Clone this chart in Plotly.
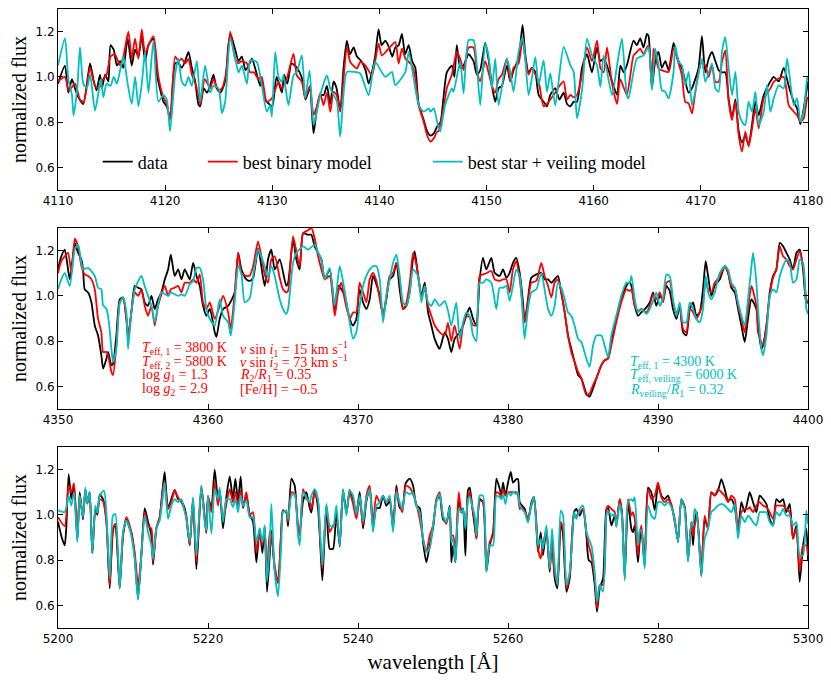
import plotly.graph_objects as go
from plotly.subplots import make_subplots

# (wavelength [A], normalized flux) pairs

# ---- panel 1: 4110-4180 A
p1_data = [
    (4110.0, 0.97), (4110.65, 1.05), (4110.96, 0.93), (4111.3, 0.99), (4111.58, 0.95), (4111.9, 0.91),
    (4112.36, 0.88), (4112.99, 1.06), (4113.3, 0.99), (4113.6, 0.94), (4113.92, 1.01), (4114.1, 0.95),
    (4114.4, 1.01), (4114.7, 0.98), (4114.9, 1.14), (4115.2, 1.12), (4115.5, 1.05), (4115.79, 1.07),
    (4116.1, 1.04), (4116.5, 1.17), (4116.88, 1.05), (4117.19, 1.12), (4117.5, 1.09), (4117.82, 1.18),
    (4118.13, 1.07), (4118.44, 1.14), (4118.91, 1.17), (4119.2, 1.02), (4119.5, 0.95), (4119.84, 0.89),
    (4120.15, 0.87), (4120.46, 0.82), (4120.6, 0.87), (4120.93, 1.06), (4121.24, 1.06), (4121.55, 1.04),
    (4121.87, 1.07), (4122.18, 1.11), (4122.49, 1.04), (4122.8, 0.98), (4123.1, 0.88), (4123.27, 0.87),
    (4123.6, 0.95), (4123.9, 0.93), (4124.2, 0.96), (4124.51, 1.01), (4124.8, 0.95), (4125.15, 0.93),
    (4125.6, 0.98), (4125.9, 1.14), (4126.1, 1.19), (4126.54, 1.12), (4126.85, 1.07), (4127.16, 1.09),
    (4127.5, 1.03), (4127.8, 1.05), (4128.1, 1.08), (4128.56, 1.01), (4128.87, 0.96),
    (4129.0, 1.00), (4129.33, 0.90), (4129.7, 0.88), (4130.0, 0.87), (4130.4, 1.00), (4130.9, 0.93),
    (4131.1, 1.01), (4131.4, 0.97), (4131.8, 1.06), (4132.3, 1.04), (4132.8, 0.99), (4133.1, 0.90),
    (4133.5, 0.95), (4133.85, 0.75), (4134.16, 0.86), (4134.47, 0.92), (4134.8, 0.92), (4135.1, 0.96),
    (4135.41, 0.88), (4135.72, 0.98), (4136.0, 0.95), (4136.34, 0.85), (4136.65, 1.04), (4136.96, 1.16),
    (4137.25, 1.10), (4137.59, 1.13), (4137.9, 1.09), (4138.3, 1.07), (4138.7, 1.03), (4138.99, 0.97),
    (4139.3, 1.02), (4139.6, 1.09), (4139.92, 1.21), (4140.2, 1.14), (4140.55, 1.16), (4140.9, 1.13),
    (4141.2, 1.09), (4141.48, 1.13), (4141.8, 1.14), (4142.1, 1.19), (4142.4, 1.10), (4142.73, 1.14),
    (4143.05, 1.07), (4143.35, 1.04), (4143.66, 0.88), (4144.13, 0.81), (4144.45, 0.76), (4144.75, 0.74),
    (4145.07, 0.75), (4145.38, 0.78), (4145.7, 0.80),
    (4145.98, 0.91), (4146.29, 1.02), (4146.76, 1.05), (4147.0, 1.00), (4147.22, 1.14), (4147.54, 1.04),
    (4147.85, 1.05), (4148.32, 1.10), (4148.78, 1.07), (4149.09, 1.01), (4149.41, 1.03), (4149.87, 1.15),
    (4150.18, 1.08), (4150.5, 0.96), (4150.81, 0.89), (4151.12, 0.95), (4151.43, 0.96), (4151.9, 1.05),
    (4152.21, 0.98), (4152.52, 1.03), (4152.99, 1.08), (4153.36, 1.23), (4153.61, 1.10), (4153.92, 1.02),
    (4154.23, 1.04), (4154.55, 1.02), (4154.86, 0.92), (4155.32, 0.89), (4155.64, 0.87), (4155.95, 0.92),
    (4156.41, 0.95), (4156.8, 0.90), (4157.19, 0.93), (4157.51, 0.88), (4157.82, 0.87), (4158.13, 0.89),
    (4158.44, 0.89), (4158.91, 1.04), (4159.37, 1.10), (4159.84, 1.02), (4160.31, 1.13), (4160.62, 1.07),
    (4160.93, 1.08), (4161.24, 1.05), (4161.71, 0.98), (4162.18, 0.92), (4162.49, 1.05), (4162.8, 1.02),
    (4163.09, 1.05), (4163.72, 1.16), (4164.03, 1.14), (4164.34, 1.17), (4164.65, 1.13), (4164.96, 1.19),
    (4165.12, 1.18), (4165.43, 0.95), (4165.74, 1.07), (4166.05, 1.11), (4166.36, 1.04), (4166.68, 1.07),
    (4166.99, 1.03), (4167.45, 1.15), (4167.61, 1.12), (4167.92, 1.07), (4168.23, 1.04), (4168.54, 0.98),
    (4168.86, 0.93), (4169.17, 0.95), (4169.48, 0.99), (4169.79, 1.04), (4170.1, 1.18), (4170.41, 1.02),
    (4170.73, 1.08), (4171.04, 1.11), (4171.35, 1.07), (4171.66, 1.03), (4171.97, 1.02), (4172.28, 1.02),
    (4172.6, 0.90), (4172.91, 0.82), (4173.22, 0.90), (4173.53, 0.76), (4173.84, 0.71), (4174.15, 0.74),
    (4174.46, 0.70), (4174.78, 0.79), (4175.09, 0.89), (4175.4, 0.83), (4175.87, 0.92), (4176.49, 0.98),
    (4176.8, 1.00), (4177.27, 0.98), (4177.73, 1.04), (4178.2, 0.96), (4178.67, 0.89), (4178.98, 0.86),
    (4179.29, 0.79), (4179.6, 0.86), (4180.0, 0.98),
]
p1_binary = [
    (4110.0, 0.98), (4110.65, 1.00), (4111.0, 0.94), (4111.6, 0.97), (4112.05, 0.90), (4112.4, 0.89),
    (4112.99, 1.04), (4113.45, 0.96), (4113.8, 0.95), (4114.2, 0.99), (4114.54, 1.01), (4114.9, 1.09),
    (4115.3, 1.10), (4115.8, 1.05), (4116.1, 1.09), (4116.57, 1.20), (4116.88, 1.08), (4117.19, 1.17),
    (4117.5, 1.08), (4117.82, 1.21), (4118.13, 1.10), (4118.44, 1.14), (4118.91, 1.18), (4119.37, 1.00),
    (4119.84, 0.91), (4120.15, 0.88), (4120.46, 0.81), (4120.93, 1.09), (4121.24, 1.07), (4121.55, 1.08),
    (4121.87, 1.06), (4122.18, 1.08), (4122.49, 1.01), (4122.9, 0.96), (4123.27, 0.88), (4123.7, 0.99),
    (4124.2, 0.95), (4124.51, 0.99), (4124.98, 0.94), (4125.3, 0.95), (4125.7, 1.02), (4126.07, 1.20),
    (4126.54, 1.08), (4126.85, 1.06), (4127.16, 1.07), (4127.63, 1.06), (4127.93, 1.02), (4128.3, 1.02),
    (4128.7, 0.99), (4129.0, 1.00), (4129.49, 0.89), (4129.96, 0.905), (4130.58, 0.978), (4130.89, 0.949),
    (4131.36, 0.993), (4131.98, 1.103), (4132.29, 1.007), (4132.76, 0.978), (4133.07, 0.905), (4133.5, 0.96),
    (4133.85, 0.831), (4134.16, 0.87), (4134.47, 0.927), (4134.78, 0.875), (4135.1, 0.93), (4135.41, 0.846),
    (4135.72, 0.934), (4136.0, 0.92), (4136.34, 0.846), (4136.96, 1.132), (4137.28, 1.066), (4137.9, 1.037),
    (4138.21, 1.066), (4138.68, 1.051), (4139.3, 1.007), (4139.92, 1.147), (4140.23, 1.095), (4140.86, 1.125),
    (4141.48, 1.154), (4141.79, 1.059), (4142.1, 1.125), (4142.42, 1.081), (4143.04, 1.051), (4143.35, 0.993),
    (4143.66, 0.875), (4144.13, 0.802), (4144.44, 0.743), (4144.75, 0.714), (4145.07, 0.728), (4145.38, 0.758),
    (4145.51, 0.76), (4145.98, 0.86), (4146.29, 0.95), (4146.76, 1.01), (4147.22, 1.11), (4147.54, 1.08),
    (4147.85, 1.03), (4148.32, 1.13), (4148.78, 1.13), (4149.09, 1.03), (4149.41, 0.98), (4149.87, 1.07),
    (4150.18, 1.02), (4150.5, 0.96), (4150.81, 0.93), (4151.12, 0.99), (4151.43, 1.01), (4151.9, 1.08),
    (4152.21, 0.98), (4152.52, 1.04), (4152.99, 1.06), (4153.36, 1.17), (4153.61, 1.08), (4153.92, 1.01),
    (4154.23, 1.04), (4154.55, 1.01), (4154.86, 0.98), (4155.32, 0.87), (4155.64, 0.88), (4155.95, 0.90),
    (4156.41, 0.93), (4156.8, 0.96), (4157.19, 0.98), (4157.51, 0.90), (4157.82, 0.92), (4158.13, 0.91),
    (4158.44, 0.92), (4158.91, 1.01), (4159.37, 1.13), (4159.84, 1.07), (4160.31, 1.16), (4160.62, 1.04),
    (4160.93, 1.02), (4161.24, 1.13), (4161.71, 0.97), (4162.18, 0.88), (4162.47, 0.99), (4163.09, 0.92),
    (4163.4, 1.00), (4163.72, 1.095), (4164.03, 1.11), (4164.34, 1.125), (4164.65, 1.10), (4164.96, 1.13),
    (4165.12, 1.139), (4165.43, 0.963), (4165.59, 1.125), (4166.05, 1.037), (4166.36, 1.029), (4166.99, 1.022),
    (4167.45, 1.125), (4167.92, 1.059), (4168.23, 1.007), (4168.54, 0.89), (4168.86, 0.883), (4169.17, 0.838),
    (4169.48, 0.934), (4169.79, 1.022), (4170.1, 1.066), (4170.41, 1.051), (4170.73, 1.0), (4171.04, 1.051),
    (4171.35, 0.978), (4171.66, 0.978), (4171.97, 1.066), (4172.28, 1.117), (4172.6, 0.89), (4172.91, 0.809),
    (4173.22, 0.89), (4173.53, 0.743), (4173.84, 0.67), (4174.15, 0.758), (4174.46, 0.692), (4174.78, 0.772),
    (4175.09, 0.861), (4175.4, 0.772), (4175.87, 0.905), (4176.49, 0.949), (4176.8, 0.978), (4177.73, 1.0),
    (4178.2, 0.875), (4178.67, 0.846), (4178.98, 0.831), (4179.29, 0.802), (4179.6, 0.816), (4179.92, 0.905),
    (4180.0, 0.91),
]
p1_veiling = [
    (4110.0, 1.05), (4110.65, 1.17), (4110.96, 0.99), (4111.3, 0.92), (4111.45, 0.83), (4111.8, 0.95),
    (4112.05, 1.13), (4112.36, 0.97), (4112.7, 0.95), (4113.0, 1.01), (4113.45, 0.85), (4113.77, 0.93),
    (4114.0, 0.99), (4114.23, 0.91), (4114.54, 0.97), (4114.9, 0.96), (4115.2, 1.00), (4115.5, 0.97),
    (4115.8, 1.03), (4116.1, 1.09), (4116.5, 0.97), (4116.88, 0.88), (4117.2, 1.00), (4117.5, 0.87),
    (4117.82, 0.97), (4118.13, 1.11), (4118.44, 0.93), (4118.91, 1.16), (4119.37, 0.89), (4119.84, 0.92),
    (4120.15, 0.90), (4120.46, 0.76), (4120.93, 1.01), (4121.24, 1.08), (4121.55, 0.98), (4121.87, 0.96),
    (4122.18, 1.00), (4122.49, 0.96), (4122.96, 1.07), (4123.27, 0.89), (4123.73, 1.05), (4124.2, 0.93),
    (4124.51, 0.96), (4124.98, 0.95), (4125.29, 0.84), (4125.6, 0.89), (4126.07, 1.17), (4126.54, 1.08),
    (4126.85, 1.02), (4127.16, 1.05), (4127.63, 0.97), (4127.93, 1.073), (4128.55, 1.066), (4129.02, 0.963),
    (4129.49, 0.846), (4129.8, 0.875), (4129.96, 0.824), (4130.27, 1.11), (4130.58, 1.0), (4130.89, 0.978),
    (4131.05, 1.007), (4131.51, 0.875), (4131.98, 1.007), (4132.29, 1.022), (4132.76, 1.095), (4133.07, 0.905),
    (4133.48, 1.029), (4133.85, 0.787), (4134.16, 0.846), (4134.47, 0.919), (4135.1, 1.007), (4135.41, 0.949),
    (4136.03, 0.89), (4136.34, 0.736), (4136.96, 1.022), (4137.59, 1.022), (4138.21, 1.015), (4138.99, 0.919),
    (4139.6, 1.066), (4140.55, 1.0), (4141.17, 1.022), (4141.48, 0.963), (4142.42, 1.022), (4142.73, 1.11),
    (4143.35, 0.949), (4143.66, 0.875), (4144.13, 0.846), (4144.6, 0.861), (4144.75, 0.846), (4145.07, 0.861),
    (4145.38, 0.802), (4145.67, 0.758), (4146.13, 0.875), (4146.76, 0.949), (4146.91, 0.934), (4147.54, 1.066),
    (4147.85, 0.927), (4148.32, 1.162), (4148.78, 1.162), (4149.09, 1.051), (4149.41, 0.875), (4149.87, 1.147),
    (4150.18, 1.095), (4150.5, 0.949), (4150.81, 1.081), (4151.12, 0.875), (4151.9, 1.081), (4152.21, 1.022),
    (4152.52, 0.934), (4152.99, 1.11), (4153.36, 1.176), (4153.61, 1.081), (4153.92, 0.919), (4154.23, 0.993),
    (4154.55, 1.088), (4154.86, 0.963), (4155.32, 1.073), (4155.64, 0.934), (4155.95, 1.015), (4156.41, 0.875),
    (4157.19, 1.132), (4157.82, 1.051), (4158.13, 1.022), (4158.44, 0.816), (4158.91, 0.941), (4159.37, 1.169),
    (4159.84, 1.095), (4160.31, 1.051), (4160.62, 0.956), (4160.93, 1.095), (4161.71, 0.919), (4162.18, 1.051),
    (4162.63, 1.169), (4163.09, 0.919), (4163.25, 0.905), (4164.03, 1.081), (4164.65, 1.095), (4165.12, 1.132),
    (4165.43, 0.941), (4165.74, 1.125), (4166.05, 1.051), (4166.36, 0.941), (4166.68, 0.934), (4166.99, 0.905),
    (4167.45, 1.022), (4167.61, 1.139), (4167.92, 1.066), (4168.23, 1.051), (4168.54, 0.963), (4168.86, 1.022),
    (4169.17, 0.875), (4169.48, 0.934), (4170.1, 1.081), (4170.41, 0.978), (4171.04, 1.059), (4171.35, 0.949),
    (4171.66, 0.934), (4171.97, 1.11), (4172.28, 1.176), (4172.6, 1.037), (4172.91, 0.919), (4173.22, 1.022),
    (4173.53, 0.846), (4173.84, 0.802), (4174.15, 0.787), (4174.46, 0.89), (4174.78, 0.846), (4175.09, 0.934),
    (4175.4, 0.787), (4175.87, 0.846), (4176.18, 0.963), (4176.49, 0.846), (4176.8, 0.905), (4177.27, 0.963),
    (4177.73, 0.949), (4178.05, 1.081), (4178.67, 0.875), (4178.98, 0.905), (4179.29, 0.802), (4179.6, 0.846),
    (4179.92, 0.993), (4180.0, 1.0),
]

# ---- panel 2: 4350-4400 A
p2_data = [
    (4350.0, 1.12), (4350.2, 1.17), (4350.45, 1.204), (4350.6, 1.15), (4350.78, 1.073), (4350.95, 1.15),
    (4351.12, 1.234), (4351.34, 1.19), (4351.56, 1.161), (4351.67, 1.117), (4351.78, 1.029), (4352.01, 1.015),
    (4352.23, 0.971), (4352.45, 0.869), (4352.67, 0.825), (4352.89, 0.737), (4353.01, 0.679), (4353.23, 0.723),
    (4353.34, 0.752), (4353.56, 0.693), (4353.67, 0.70), (4353.89, 0.825), (4354.12, 0.985), (4354.34, 0.993),
    (4354.56, 0.898), (4354.67, 0.81), (4354.89, 0.927), (4355.12, 1.044), (4355.34, 1.036), (4355.56, 1.029),
    (4355.78, 0.971), (4356.0, 0.956), (4356.23, 1.0), (4356.45, 0.942), (4356.67, 0.985), (4356.89, 1.015),
    (4357.12, 1.073), (4357.34, 1.117), (4357.52, 1.182), (4357.78, 1.088), (4358.01, 1.117), (4358.23, 1.073),
    (4358.45, 1.117), (4358.78, 1.073), (4359.01, 1.146), (4359.23, 1.088), (4359.45, 1.044), (4359.67, 0.956),
    (4359.89, 0.912), (4360.12, 0.942), (4360.45, 0.839), (4360.56, 0.818), (4360.78, 0.898), (4361.01, 0.942),
    (4361.34, 0.956), (4361.78, 1.015), (4362.01, 1.19), (4362.23, 1.117), (4362.56, 1.073), (4362.78, 1.066),
    (4363.01, 1.08), (4363.34, 1.21), (4363.78, 1.044), (4364.0, 1.161), (4364.22, 1.204), (4364.45, 1.117),
    (4364.78, 1.161), (4365.22, 1.044), (4365.34, 1.058), (4365.67, 1.248), (4365.89, 1.161), (4366.11, 1.117),
    (4366.34, 1.277), (4366.67, 1.27), (4366.89, 1.27), (4367.11, 1.219), (4367.34, 1.19), (4367.56, 1.161),
    (4367.78, 1.073), (4368.11, 1.117), (4368.45, 0.942), (4368.67, 1.044), (4368.89, 1.029), (4369.11, 1.0),
    (4369.45, 0.898), (4369.67, 0.869), (4369.89, 0.898), (4370.11, 1.029), (4370.34, 0.971), (4370.56, 0.942),
    (4370.78, 0.985), (4371.0, 1.088), (4371.23, 1.051), (4371.45, 1.0), (4371.67, 0.912), (4371.89, 0.985),
    (4372.11, 1.073), (4372.34, 1.088), (4372.56, 1.146), (4372.78, 1.029), (4373.0, 0.942), (4373.23, 0.956),
    (4373.45, 1.022), (4373.67, 1.168), (4373.78, 1.197), (4374.0, 1.088), (4374.23, 1.0), (4374.45, 1.058),
    (4374.67, 0.927), (4374.89, 0.869), (4375.11, 0.81), (4375.44, 0.766), (4375.78, 0.839), (4376.0, 0.81),
    (4376.22, 0.752), (4376.44, 0.81), (4376.78, 0.839), (4377.0, 0.869), (4377.22, 0.912), (4377.44, 0.949),
    (4377.67, 0.898), (4377.89, 0.869), (4378.11, 1.073), (4378.33, 1.168), (4378.55, 1.117), (4378.89, 1.168),
    (4379.11, 1.102), (4379.44, 1.088), (4379.67, 1.117), (4379.89, 1.08), (4380.11, 1.102), (4380.33, 1.146),
    (4380.55, 1.168), (4380.78, 1.102), (4381.0, 0.971), (4381.11, 0.883), (4381.33, 0.985), (4381.55, 1.08),
    (4381.89, 1.095), (4382.22, 1.102), (4382.44, 1.073), (4382.67, 1.073), (4382.89, 1.058), (4383.11, 1.073),
    (4383.33, 1.088), (4383.55, 1.015), (4383.78, 0.927), (4384.0, 0.825), (4384.22, 0.766), (4384.44, 0.708),
    (4384.67, 0.65), (4384.89, 0.635), (4385.22, 0.569), (4385.44, 0.555), (4385.67, 0.591), (4385.89, 0.635),
    (4386.22, 0.693), (4386.44, 0.715), (4386.67, 0.723), (4386.89, 0.796), (4387.22, 0.898), (4387.55, 0.985),
    (4387.89, 1.044), (4388.11, 1.06), (4388.23, 1.044), (4388.45, 0.956), (4388.67, 0.912), (4388.89, 0.927),
    (4389.23, 0.949), (4389.45, 0.971), (4389.67, 1.015), (4389.89, 0.956), (4390.12, 1.0), (4390.34, 0.985),
    (4390.56, 1.044), (4390.78, 1.022), (4391.0, 0.942), (4391.23, 0.898), (4391.45, 0.956), (4391.67, 0.839),
    (4391.89, 0.825), (4392.12, 0.942), (4392.34, 0.971), (4392.56, 0.912), (4392.78, 0.927), (4393.0, 1.029),
    (4393.18, 1.153), (4393.34, 1.088), (4393.56, 1.0), (4393.78, 1.044), (4394.12, 1.073), (4394.45, 1.131),
    (4394.67, 1.102), (4394.89, 1.036), (4395.12, 1.015), (4395.34, 0.942), (4395.56, 0.869), (4395.78, 0.796),
    (4396.0, 0.898), (4396.23, 0.985), (4396.56, 0.942), (4396.67, 0.869), (4396.89, 0.766), (4397.0, 0.781),
    (4397.23, 0.869), (4397.45, 1.015), (4397.67, 1.088), (4397.89, 1.117), (4398.12, 1.234), (4398.34, 1.219),
    (4398.56, 1.19), (4398.78, 1.161), (4399.0, 1.117), (4399.23, 1.19), (4399.45, 1.204), (4399.67, 1.117),
    (4399.89, 0.971), (4400.0, 0.97),
]
p2_binary = [
    (4350.0, 1.10), (4350.2, 1.15), (4350.45, 1.175), (4350.67, 1.19), (4350.9, 1.10), (4351.12, 1.253),
    (4351.34, 1.219), (4351.56, 1.131), (4351.78, 1.095), (4352.01, 1.088), (4352.23, 1.073), (4352.45, 1.029),
    (4352.67, 0.898), (4352.89, 0.839), (4353.01, 0.752), (4353.23, 0.752), (4353.34, 0.737), (4353.56, 0.664),
    (4353.67, 0.65), (4353.89, 0.781), (4354.12, 0.971), (4354.34, 0.99), (4354.56, 0.898), (4354.67, 0.825),
    (4354.89, 0.927), (4355.12, 1.015), (4355.34, 1.0), (4355.56, 1.029), (4355.78, 0.956), (4356.0, 0.912),
    (4356.23, 0.956), (4356.45, 0.869), (4356.67, 0.956), (4357.12, 1.044), (4357.34, 1.0), (4357.52, 1.029),
    (4357.78, 1.036), (4358.01, 1.044), (4358.23, 1.015), (4358.45, 1.058), (4358.78, 1.058), (4359.01, 1.073),
    (4359.23, 1.058), (4359.45, 1.095), (4359.67, 0.971), (4359.89, 0.942), (4360.12, 0.971), (4360.45, 0.898),
    (4360.78, 0.956), (4361.01, 1.0), (4361.34, 0.927), (4361.52, 0.854), (4361.78, 1.015), (4362.01, 1.19),
    (4362.23, 1.102), (4362.56, 1.088), (4362.78, 1.09), (4363.01, 1.131), (4363.34, 1.241), (4363.78, 1.095),
    (4364.0, 1.058), (4364.22, 1.161), (4364.45, 1.175), (4364.78, 1.08), (4365.0, 1.029), (4365.22, 1.015),
    (4365.34, 1.022), (4365.67, 1.263), (4366.11, 1.131), (4366.34, 1.277), (4366.67, 1.29), (4366.89, 1.30),
    (4367.11, 1.255), (4367.34, 1.175), (4367.56, 1.117), (4367.78, 1.073), (4368.11, 1.088), (4368.45, 0.912),
    (4368.67, 1.015), (4368.89, 1.058), (4369.11, 0.985), (4369.45, 0.898), (4369.67, 0.927), (4369.89, 0.927),
    (4370.11, 1.058), (4370.34, 1.015), (4370.56, 0.971), (4370.78, 1.073), (4371.0, 1.102), (4371.23, 1.066),
    (4371.45, 0.985), (4371.67, 0.912), (4371.89, 1.0), (4372.11, 1.088), (4372.34, 1.102), (4372.56, 1.146),
    (4372.78, 1.073), (4373.0, 0.942), (4373.23, 0.971), (4373.45, 1.058), (4373.67, 1.19), (4373.78, 1.168),
    (4374.0, 1.102), (4374.23, 1.0), (4374.45, 1.029), (4374.67, 0.956), (4374.89, 0.912), (4375.11, 0.87),
    (4375.44, 0.84), (4375.78, 0.825), (4376.0, 0.88), (4376.22, 0.80), (4376.44, 0.87), (4376.78, 0.766),
    (4377.0, 0.87), (4377.22, 0.91), (4377.44, 0.905), (4377.67, 0.87), (4377.89, 0.87), (4378.11, 1.088),
    (4378.33, 1.095), (4378.55, 1.10), (4378.89, 1.11), (4379.11, 1.073), (4379.44, 1.066), (4379.67, 1.073),
    (4379.89, 1.073), (4380.11, 1.015), (4380.33, 1.117), (4380.55, 1.153), (4380.78, 1.073), (4381.0, 0.942),
    (4381.11, 0.883), (4381.33, 0.971), (4381.55, 1.058), (4381.89, 1.066), (4382.22, 1.146), (4382.44, 1.088),
    (4382.67, 1.044), (4382.89, 0.993), (4383.11, 1.058), (4383.33, 1.073), (4383.55, 1.015), (4383.78, 0.927),
    (4384.0, 0.825), (4384.22, 0.752), (4384.44, 0.708), (4384.67, 0.664), (4384.89, 0.635), (4385.22, 0.562),
    (4385.44, 0.569), (4385.67, 0.606), (4385.89, 0.635), (4386.22, 0.693), (4386.44, 0.715), (4386.67, 0.723),
    (4386.89, 0.781), (4387.22, 0.883), (4387.55, 0.971), (4387.89, 1.029), (4388.11, 1.022), (4388.23, 1.029),
    (4388.45, 0.956), (4388.67, 0.934), (4388.89, 0.942), (4389.23, 0.927), (4389.45, 0.956), (4389.67, 1.007),
    (4389.89, 0.985), (4390.12, 1.015), (4390.34, 0.971), (4390.56, 1.058), (4390.78, 1.066), (4391.0, 0.971),
    (4391.23, 0.927), (4391.45, 0.942), (4391.67, 0.854), (4391.89, 0.839), (4392.12, 0.942), (4392.34, 0.927),
    (4392.56, 0.898), (4392.78, 0.927), (4393.0, 0.971), (4393.18, 1.073), (4393.34, 1.029), (4393.56, 1.015),
    (4393.78, 1.058), (4394.12, 1.088), (4394.45, 1.131), (4394.67, 1.102), (4394.89, 1.044), (4395.12, 1.036),
    (4395.34, 0.956), (4395.56, 0.898), (4395.78, 0.839), (4396.0, 0.942), (4396.23, 1.044), (4396.56, 0.956),
    (4396.67, 0.839), (4396.89, 0.796), (4397.0, 0.781), (4397.23, 0.869), (4397.45, 1.0), (4397.67, 1.08),
    (4397.89, 1.117), (4398.12, 1.219), (4398.34, 1.175), (4398.56, 1.161), (4398.78, 1.131), (4399.0, 1.117),
    (4399.23, 1.161), (4399.45, 1.197), (4399.67, 1.131), (4399.89, 0.985), (4400.0, 0.97),
]
p2_veiling = [
    (4350.0, 1.03), (4350.2, 1.07), (4350.45, 1.102), (4350.78, 1.044), (4351.12, 1.204), (4351.34, 1.226),
    (4351.56, 1.146), (4351.67, 1.117), (4352.01, 1.124), (4352.45, 1.088), (4352.67, 1.036), (4352.89, 1.029),
    (4353.0, 0.96), (4353.23, 0.942), (4353.4, 0.88), (4353.56, 0.766), (4353.67, 0.708), (4353.89, 0.766),
    (4354.12, 0.971), (4354.34, 0.993), (4354.56, 0.927), (4354.67, 0.766), (4354.89, 0.927), (4355.12, 1.029),
    (4355.56, 1.088), (4355.78, 1.044), (4356.0, 1.0), (4356.23, 0.956), (4356.45, 0.883), (4356.89, 1.015),
    (4357.34, 1.0), (4357.52, 1.015), (4358.01, 1.0), (4358.23, 1.007), (4358.45, 1.0), (4358.78, 1.051),
    (4359.01, 1.066), (4359.23, 1.124), (4359.45, 1.124), (4359.67, 1.073), (4359.89, 0.942), (4360.12, 0.898),
    (4360.45, 0.869), (4360.78, 0.985), (4361.01, 0.912), (4361.34, 0.883), (4361.52, 0.825), (4361.78, 0.971),
    (4362.01, 1.131), (4362.23, 1.095), (4362.45, 0.971), (4362.78, 0.99), (4363.01, 1.088), (4363.34, 1.205),
    (4363.45, 1.19), (4363.78, 1.131), (4364.0, 1.08), (4364.22, 1.131), (4364.45, 1.088), (4364.78, 0.985),
    (4365.0, 0.942), (4365.22, 0.92), (4365.34, 0.942), (4365.67, 1.146), (4365.89, 1.19), (4366.34, 1.219),
    (4366.67, 1.204), (4367.11, 1.226), (4367.34, 1.19), (4367.56, 1.161), (4367.78, 1.073), (4368.11, 1.124),
    (4368.45, 0.956), (4368.78, 1.131), (4369.11, 1.022), (4369.45, 0.883), (4369.67, 0.81), (4369.89, 0.839),
    (4370.11, 0.956), (4370.34, 1.044), (4370.56, 1.088), (4370.78, 1.117), (4371.0, 1.131), (4371.23, 1.131),
    (4371.45, 1.073), (4371.67, 0.883), (4371.89, 1.0), (4372.11, 1.073), (4372.34, 1.146), (4372.56, 1.182),
    (4372.78, 1.088), (4373.0, 0.971), (4373.23, 0.956), (4373.45, 1.015), (4373.67, 1.117), (4374.0, 1.088),
    (4374.23, 0.971), (4374.45, 1.044), (4374.67, 0.971), (4374.89, 0.956), (4375.11, 0.985), (4375.44, 0.956),
    (4375.78, 0.978), (4376.0, 0.934), (4376.22, 0.869), (4376.55, 0.97), (4376.78, 0.81), (4377.0, 0.883),
    (4377.22, 0.927), (4377.44, 0.912), (4377.67, 0.825), (4377.89, 0.80), (4378.11, 1.058), (4378.33, 1.058),
    (4378.55, 1.073), (4378.89, 1.058), (4379.22, 0.942), (4379.44, 1.036), (4379.67, 1.036), (4379.89, 1.044),
    (4380.11, 0.978), (4380.33, 1.044), (4380.55, 1.117), (4380.78, 1.088), (4381.0, 0.898), (4381.11, 0.81),
    (4381.33, 0.942), (4381.55, 1.015), (4381.89, 1.029), (4382.22, 1.102), (4382.44, 1.029), (4382.67, 0.942),
    (4382.89, 0.912), (4383.11, 0.956), (4383.33, 1.058), (4383.55, 1.036), (4383.78, 0.985), (4384.0, 0.927),
    (4384.22, 0.912), (4384.44, 0.869), (4384.67, 0.81), (4384.89, 0.796), (4385.22, 0.723), (4385.44, 0.686),
    (4385.67, 0.781), (4385.89, 0.825), (4386.22, 0.825), (4386.44, 0.781), (4386.67, 0.73), (4386.89, 0.825),
    (4387.22, 0.912), (4387.55, 1.0), (4387.89, 1.058), (4388.11, 1.058), (4388.23, 1.088), (4388.45, 0.985),
    (4388.67, 0.927), (4388.89, 0.942), (4389.23, 0.92), (4389.45, 0.942), (4389.67, 0.978), (4389.89, 1.015),
    (4390.12, 0.956), (4390.34, 0.993), (4390.56, 1.095), (4390.78, 1.088), (4391.0, 0.985), (4391.23, 0.912),
    (4391.45, 0.971), (4391.67, 0.883), (4391.89, 0.883), (4392.12, 0.971), (4392.34, 0.942), (4392.56, 0.898),
    (4392.78, 0.883), (4393.0, 0.942), (4393.18, 1.088), (4393.34, 1.015), (4393.56, 0.985), (4393.78, 1.015),
    (4394.12, 1.102), (4394.45, 1.131), (4394.67, 1.117), (4394.89, 1.058), (4395.12, 1.036), (4395.34, 0.971),
    (4395.56, 0.912), (4395.78, 0.869), (4396.0, 0.985), (4396.23, 1.131), (4396.34, 1.19), (4396.56, 1.058),
    (4396.67, 0.942), (4396.89, 0.766), (4397.0, 0.737), (4397.23, 0.825), (4397.45, 1.0), (4397.67, 1.029),
    (4397.89, 1.015), (4398.12, 1.088), (4398.34, 1.131), (4398.56, 1.161), (4398.78, 1.146), (4399.0, 1.058),
    (4399.23, 1.073), (4399.45, 1.161), (4399.67, 1.146), (4399.89, 0.942), (4400.0, 0.92),
]

# ---- panel 3: 5200-5300 A
p3_data = [
    (5200.0, 0.97), (5200.5, 0.90), (5200.89, 0.865), (5201.1, 0.94), (5201.42, 1.18), (5201.78, 1.07),
    (5202.13, 1.13), (5202.58, 0.89), (5202.89, 1.10), (5203.33, 0.98), (5203.65, 1.11), (5203.91, 1.05),
    (5204.22, 1.10), (5204.58, 0.83), (5204.98, 1.03), (5205.25, 1.0), (5205.56, 1.09), (5206.0, 1.07),
    (5206.45, 0.98), (5206.89, 0.675), (5207.33, 0.93), (5207.65, 0.96), (5208.22, 0.675), (5208.67, 0.91),
    (5209.11, 0.98), (5209.56, 0.94), (5209.8, 0.92), (5210.22, 0.82), (5210.67, 0.63), (5211.11, 0.82),
    (5211.56, 1.03), (5212.0, 0.97), (5212.45, 0.91), (5212.67, 0.78), (5213.11, 0.94), (5213.56, 0.99),
    (5214.0, 1.13), (5214.22, 1.19), (5214.67, 1.03), (5215.11, 1.07), (5215.56, 1.11), (5216.0, 1.07),
    (5216.45, 1.06), (5216.89, 1.03), (5217.11, 0.99), (5217.56, 0.865), (5218.0, 1.07), (5218.45, 0.76),
    (5219.11, 1.12), (5219.56, 0.98), (5219.78, 0.92), (5220.0, 1.08), (5220.45, 1.03), (5220.89, 1.2),
    (5221.33, 1.07), (5221.56, 1.11), (5222.0, 0.94), (5222.45, 1.08), (5222.89, 1.17), (5223.33, 1.07),
    (5223.65, 1.16), (5224.0, 1.06), (5224.36, 1.17), (5224.67, 1.03), (5225.11, 1.09), (5225.56, 1.0),
    (5226.0, 0.97), (5226.45, 0.79), (5226.89, 0.94), (5227.25, 0.83), (5227.56, 0.95), (5227.87, 0.66),
    (5228.23, 0.82), (5228.45, 0.93), (5228.89, 0.76), (5229.34, 0.70), (5229.78, 0.94), (5230.0, 1.02),
    (5230.45, 1.01), (5230.67, 0.95), (5231.12, 1.16), (5231.56, 1.13), (5232.0, 0.94), (5232.23, 0.92),
    (5232.67, 1.06), (5233.12, 1.1), (5233.56, 1.03), (5233.78, 1.01), (5234.23, 1.11), (5234.67, 1.03),
    (5234.98, 0.86), (5235.25, 0.71), (5235.78, 1.04), (5236.23, 0.85), (5236.67, 0.85), (5237.12, 1.01),
    (5237.56, 0.86), (5238.0, 1.11), (5238.45, 1.01), (5238.89, 1.11), (5239.34, 1.06), (5239.78, 1.01),
    (5240.23, 1.10), (5240.67, 0.94), (5241.12, 1.06), (5241.56, 1.12), (5242.0, 0.94), (5242.45, 1.03),
    (5242.89, 1.03), (5243.34, 1.085), (5243.78, 1.04), (5244.23, 1.06), (5244.67, 0.94), (5245.12, 1.13),
    (5245.56, 1.03), (5245.92, 1.03), (5246.36, 1.14), (5246.89, 1.16), (5247.34, 1.13), (5247.78, 1.04),
    (5248.23, 1.03), (5248.67, 0.88), (5249.12, 0.79), (5249.56, 0.865), (5250.0, 0.94), (5250.45, 1.06),
    (5250.89, 1.085), (5251.34, 0.98), (5251.79, 0.97), (5252.23, 1.04), (5252.45, 0.79), (5252.67, 0.865),
    (5252.99, 0.79), (5253.43, 1.07), (5253.79, 1.01), (5254.01, 1.03), (5254.32, 0.82), (5254.67, 1.11),
    (5254.9, 1.12), (5255.21, 1.04), (5255.56, 0.95), (5255.79, 0.895), (5256.23, 1.07), (5256.67, 1.056),
    (5257.12, 0.75), (5257.56, 0.865), (5258.01, 0.924), (5258.45, 1.16), (5258.9, 1.114), (5259.12, 1.085),
    (5259.34, 1.143), (5259.65, 1.085), (5260.01, 1.143), (5260.36, 1.19), (5260.67, 1.143), (5261.12, 1.158),
    (5261.34, 1.158), (5261.56, 1.056), (5261.87, 1.041), (5262.23, 1.026), (5262.67, 0.968), (5263.12, 1.056),
    (5263.47, 1.078), (5263.79, 0.939), (5264.01, 0.836), (5264.36, 0.924), (5264.67, 0.821), (5265.12, 0.939),
    (5265.56, 0.748), (5265.87, 0.895), (5266.23, 0.719), (5266.59, 0.675), (5267.03, 0.968), (5267.34, 0.909),
    (5267.79, 0.66), (5268.23, 0.719), (5268.54, 0.909), (5268.81, 1.012), (5269.12, 1.026), (5269.56, 0.997),
    (5270.01, 1.026), (5270.45, 0.909), (5270.76, 0.8), (5271.12, 0.79), (5271.56, 0.69), (5271.87, 0.572),
    (5272.23, 0.675), (5272.67, 0.719), (5273.12, 1.026), (5273.34, 1.034), (5273.79, 0.953), (5274.23, 0.997),
    (5274.45, 0.953), (5274.89, 1.07), (5275.2, 1.01), (5275.56, 0.72), (5276.0, 1.056), (5276.45, 0.939),
    (5276.67, 0.924), (5276.89, 0.953), (5277.33, 0.79), (5277.55, 0.88), (5277.78, 0.939), (5278.22, 0.777),
    (5278.67, 1.12), (5279.11, 1.1), (5279.56, 1.02), (5280.0, 1.129), (5280.45, 1.085), (5280.89, 1.07),
    (5281.33, 1.085), (5281.78, 1.041), (5282.22, 0.982), (5282.67, 0.88), (5283.11, 1.07), (5283.56, 1.034),
    (5284.0, 0.8), (5284.45, 0.968), (5284.67, 0.865), (5284.89, 0.968), (5285.2, 1.012), (5285.78, 0.73),
    (5286.22, 0.982), (5286.67, 0.939), (5287.11, 1.1), (5287.56, 1.085), (5288.0, 1.107), (5288.45, 1.158),
    (5288.89, 1.114), (5289.34, 1.063), (5289.78, 1.07), (5290.23, 1.034), (5290.67, 0.924), (5291.11, 1.056),
    (5291.56, 1.012), (5292.0, 1.07), (5292.23, 1.1), (5292.67, 1.056), (5293.11, 1.012), (5293.56, 1.085),
    (5294.0, 1.07), (5294.45, 1.048), (5294.89, 0.982), (5295.34, 0.953), (5295.78, 1.07), (5296.23, 1.056),
    (5296.67, 1.07), (5297.11, 1.012), (5297.56, 1.048), (5298.0, 0.895), (5298.45, 0.953), (5298.89, 0.704),
    (5299.34, 0.865), (5299.78, 0.939), (5300.0, 0.80),
]
p3_binary = [
    (5200.0, 0.99), (5200.89, 0.95), (5201.42, 1.13), (5201.78, 1.10), (5202.13, 1.14), (5202.58, 0.90),
    (5202.89, 1.085), (5203.33, 0.997), (5203.65, 1.114), (5203.91, 1.05), (5204.22, 1.10), (5204.58, 0.83),
    (5204.98, 1.012), (5205.25, 1.01), (5205.56, 1.07), (5206.0, 1.06), (5206.45, 0.968), (5206.89, 0.69),
    (5207.33, 0.939), (5207.65, 0.96), (5208.22, 0.69), (5208.67, 0.909), (5209.11, 0.99), (5209.56, 0.953),
    (5210.22, 0.836), (5210.67, 0.69), (5211.11, 0.821), (5211.56, 1.012), (5212.0, 0.953), (5212.45, 0.939),
    (5212.67, 0.792), (5213.11, 0.939), (5213.56, 0.99), (5214.0, 1.12), (5214.22, 1.143), (5214.67, 1.026),
    (5215.11, 1.056), (5215.56, 1.107), (5216.0, 1.078), (5216.45, 1.056), (5216.89, 1.02), (5217.11, 0.997),
    (5217.56, 0.865), (5218.0, 1.07), (5218.45, 0.792), (5219.11, 1.129), (5219.56, 0.997), (5219.78, 0.924),
    (5220.0, 1.085), (5220.45, 1.012), (5220.89, 1.143), (5221.33, 1.041), (5221.56, 1.1), (5222.0, 0.982),
    (5222.45, 1.048), (5222.89, 1.114), (5223.33, 1.056), (5223.65, 1.1), (5224.0, 1.041), (5224.36, 1.107),
    (5224.67, 1.034), (5225.11, 1.1), (5225.56, 1.0), (5226.0, 1.012), (5226.45, 0.836), (5226.89, 0.924),
    (5227.25, 0.865), (5227.56, 0.939), (5227.87, 0.734), (5228.23, 0.924), (5228.45, 0.91), (5228.89, 0.777),
    (5229.34, 0.70), (5229.78, 0.939), (5230.0, 1.02), (5230.45, 1.012), (5230.67, 0.968), (5231.12, 1.1),
    (5231.56, 1.092), (5232.0, 0.953), (5232.23, 0.91), (5232.67, 1.114), (5233.12, 1.07), (5233.56, 1.056),
    (5233.78, 1.026), (5234.23, 1.1), (5234.67, 1.056), (5234.98, 0.88), (5235.25, 0.763), (5235.78, 1.034),
    (5236.23, 0.924), (5236.67, 0.953), (5237.12, 0.968), (5237.56, 0.88), (5238.0, 1.1), (5238.45, 1.012),
    (5238.89, 1.1), (5239.34, 1.048), (5239.78, 0.982), (5240.23, 1.07), (5240.67, 0.953), (5241.12, 1.085),
    (5241.56, 1.129), (5242.0, 0.968), (5242.45, 1.085), (5242.89, 1.056), (5243.34, 1.085), (5243.78, 1.056),
    (5244.23, 1.07), (5244.67, 0.953), (5245.12, 1.114), (5245.56, 1.041), (5245.92, 1.012), (5246.36, 1.129),
    (5246.89, 1.12), (5247.34, 1.092), (5247.78, 1.048), (5248.23, 0.982), (5248.67, 0.895), (5249.12, 0.836),
    (5249.56, 0.909), (5250.0, 0.953), (5250.45, 1.07), (5250.89, 1.1), (5251.34, 0.99), (5251.79, 0.96),
    (5252.23, 1.026), (5252.45, 0.909), (5252.67, 0.909), (5252.99, 0.851), (5253.43, 1.1), (5253.79, 1.012),
    (5254.01, 1.026), (5254.32, 0.953), (5254.67, 1.07), (5254.9, 1.1), (5255.21, 1.041), (5255.56, 0.968),
    (5255.79, 0.895), (5256.23, 1.063), (5256.67, 1.056), (5257.12, 0.763), (5257.56, 0.88), (5258.01, 0.909),
    (5258.45, 1.1), (5258.9, 1.092), (5259.12, 1.07), (5259.34, 1.114), (5259.65, 1.085), (5260.01, 1.1),
    (5260.36, 1.1), (5260.67, 1.1), (5261.12, 1.1), (5261.34, 1.085), (5261.56, 1.026), (5261.87, 1.034),
    (5262.23, 1.012), (5262.67, 0.99), (5263.12, 1.041), (5263.47, 1.07), (5263.79, 0.968), (5264.01, 0.851),
    (5264.36, 0.807), (5264.67, 0.865), (5265.12, 0.939), (5265.56, 0.763), (5265.87, 0.88), (5266.23, 0.734),
    (5266.59, 0.704), (5267.03, 0.968), (5267.34, 0.939), (5267.79, 0.675), (5268.23, 0.734), (5268.54, 0.895),
    (5268.81, 0.997), (5269.12, 0.997), (5269.56, 1.012), (5270.01, 1.026), (5270.45, 0.924), (5270.76, 0.865),
    (5271.12, 0.821), (5271.56, 0.719), (5271.87, 0.587), (5272.23, 0.69), (5272.67, 0.69), (5273.12, 1.012),
    (5273.34, 1.041), (5273.79, 1.026), (5274.23, 1.012), (5274.45, 0.953), (5274.89, 1.07), (5275.2, 0.997),
    (5275.56, 0.748), (5276.0, 1.07), (5276.45, 0.997), (5276.67, 1.012), (5276.89, 0.982), (5277.33, 0.821),
    (5277.55, 0.91), (5277.78, 0.953), (5278.22, 0.807), (5278.67, 1.114), (5279.11, 1.07), (5279.56, 1.085),
    (5280.0, 1.143), (5280.45, 1.078), (5280.89, 1.056), (5281.33, 1.07), (5281.78, 1.048), (5282.22, 0.968),
    (5282.67, 0.888), (5283.11, 1.056), (5283.56, 1.034), (5284.0, 0.807), (5284.45, 0.968), (5284.67, 0.909),
    (5284.89, 0.953), (5285.2, 0.997), (5285.78, 0.748), (5286.22, 0.997), (5286.67, 0.939), (5287.11, 1.1),
    (5287.56, 1.085), (5288.0, 1.114), (5288.45, 1.1), (5288.89, 1.085), (5289.34, 1.056), (5289.78, 1.085),
    (5290.23, 1.07), (5290.67, 0.939), (5291.11, 1.012), (5291.56, 1.026), (5292.0, 1.026), (5292.23, 1.034),
    (5292.67, 1.012), (5293.11, 1.041), (5293.56, 1.056), (5294.0, 1.041), (5294.45, 1.034), (5294.89, 1.012),
    (5295.34, 0.982), (5295.78, 1.041), (5296.23, 1.041), (5296.67, 1.041), (5297.11, 1.026), (5297.56, 1.012),
    (5298.0, 0.895), (5298.45, 0.939), (5298.89, 0.748), (5299.34, 0.865), (5299.78, 0.865), (5300.0, 0.82),
]
p3_veiling = [
    (5200.0, 1.02), (5200.89, 1.012), (5201.42, 1.085), (5201.78, 1.041), (5202.13, 1.1), (5202.58, 0.88),
    (5202.89, 1.085), (5203.33, 0.99), (5203.65, 1.12), (5203.91, 1.05), (5204.22, 1.1), (5204.58, 0.83),
    (5204.98, 1.041), (5205.25, 1.01), (5205.56, 1.085), (5206.13, 1.107), (5206.45, 1.012), (5206.89, 0.719),
    (5207.33, 0.997), (5207.65, 1.004), (5208.22, 0.675), (5208.67, 0.924), (5209.11, 0.975), (5209.56, 0.939),
    (5210.22, 0.807), (5210.67, 0.624), (5211.11, 0.821), (5211.56, 0.997), (5212.0, 0.924), (5212.45, 0.865),
    (5212.67, 0.807), (5213.11, 0.939), (5213.56, 0.975), (5214.0, 1.085), (5214.22, 1.143), (5214.67, 0.982),
    (5215.11, 1.041), (5215.56, 1.07), (5216.0, 1.056), (5216.45, 1.07), (5216.89, 1.012), (5217.11, 0.982),
    (5217.56, 0.88), (5218.0, 1.078), (5218.45, 0.821), (5219.11, 1.129), (5219.56, 0.968), (5219.78, 0.931),
    (5220.0, 1.085), (5220.45, 0.917), (5220.89, 1.114), (5221.33, 1.07), (5221.56, 1.12), (5222.0, 0.968),
    (5222.45, 1.07), (5222.89, 1.07), (5223.33, 1.034), (5223.65, 1.07), (5224.0, 1.012), (5224.36, 1.085),
    (5224.67, 1.041), (5225.11, 1.063), (5225.56, 0.99), (5226.0, 0.99), (5226.45, 0.88), (5226.89, 0.939),
    (5227.25, 0.88), (5227.56, 0.953), (5227.87, 0.704), (5228.23, 0.865), (5228.45, 1.048), (5228.89, 0.748),
    (5229.34, 0.64), (5229.78, 0.88), (5230.0, 1.012), (5230.45, 1.019), (5230.67, 0.982), (5231.12, 1.085),
    (5231.56, 1.092), (5232.0, 0.909), (5232.23, 0.865), (5232.67, 1.1), (5233.12, 1.078), (5233.56, 1.056),
    (5233.78, 1.085), (5234.23, 1.114), (5234.67, 1.07), (5234.98, 0.909), (5235.25, 0.777), (5235.78, 1.048),
    (5236.23, 0.953), (5236.67, 0.946), (5237.12, 1.041), (5237.56, 0.865), (5238.0, 1.114), (5238.45, 0.997),
    (5238.89, 1.107), (5239.34, 1.085), (5239.78, 1.004), (5240.23, 1.085), (5240.67, 0.968), (5241.12, 1.07),
    (5241.56, 1.114), (5242.0, 0.924), (5242.45, 1.041), (5242.89, 1.056), (5243.34, 1.085), (5243.78, 1.056),
    (5244.23, 1.085), (5244.67, 0.924), (5245.12, 1.1), (5245.56, 1.056), (5245.92, 1.026), (5246.36, 1.1),
    (5246.89, 1.092), (5247.34, 1.1), (5247.78, 1.041), (5248.23, 1.012), (5248.67, 0.895), (5249.12, 0.836),
    (5249.56, 0.851), (5250.0, 0.953), (5250.45, 1.056), (5250.89, 1.092), (5251.34, 0.997), (5251.79, 0.968),
    (5252.23, 1.034), (5252.45, 0.88), (5252.67, 0.895), (5252.99, 0.792), (5253.43, 1.026), (5253.79, 1.012),
    (5254.01, 1.026), (5254.32, 0.939), (5254.67, 1.07), (5254.9, 1.078), (5255.21, 1.041), (5255.56, 0.997),
    (5255.79, 0.909), (5256.23, 1.085), (5256.67, 1.085), (5257.12, 0.748), (5257.56, 0.865), (5258.01, 0.865),
    (5258.45, 1.085), (5258.9, 1.078), (5259.12, 1.07), (5259.34, 1.092), (5259.65, 1.048), (5260.01, 1.1),
    (5260.36, 1.085), (5260.67, 1.1), (5261.12, 1.092), (5261.34, 1.1), (5261.56, 1.041), (5261.87, 1.026),
    (5262.23, 1.012), (5262.67, 0.968), (5263.12, 1.048), (5263.47, 1.078), (5263.79, 0.939), (5264.01, 0.865),
    (5264.36, 0.895), (5264.67, 0.851), (5265.12, 0.953), (5265.56, 0.763), (5265.87, 0.939), (5266.23, 0.777),
    (5266.59, 0.69), (5267.03, 1.019), (5267.34, 0.997), (5267.79, 0.69), (5268.23, 0.748), (5268.54, 0.88),
    (5268.81, 1.012), (5269.12, 0.982), (5269.56, 1.026), (5270.01, 1.041), (5270.45, 0.924), (5270.76, 0.895),
    (5271.12, 0.865), (5271.56, 0.748), (5271.87, 0.616), (5272.23, 0.69), (5272.67, 0.66), (5273.12, 0.997),
    (5273.34, 1.019), (5273.79, 0.997), (5274.23, 1.004), (5274.45, 0.946), (5274.89, 1.048), (5275.2, 0.99),
    (5275.56, 0.71), (5276.0, 1.056), (5276.45, 1.07), (5276.67, 1.06), (5276.89, 1.078), (5277.33, 0.865),
    (5277.55, 0.93), (5277.78, 0.931), (5278.22, 0.763), (5278.67, 1.041), (5279.11, 0.997), (5279.56, 0.982),
    (5280.0, 1.056), (5280.45, 1.056), (5280.89, 1.041), (5281.33, 1.056), (5281.78, 1.034), (5282.22, 0.982),
    (5282.67, 0.88), (5283.11, 1.07), (5283.56, 1.026), (5284.0, 0.792), (5284.45, 0.968), (5284.67, 0.953),
    (5284.89, 1.026), (5285.2, 0.997), (5285.78, 0.734), (5286.22, 0.895), (5286.67, 0.939), (5287.11, 1.012),
    (5287.56, 1.026), (5288.0, 1.041), (5288.45, 1.048), (5288.89, 1.041), (5289.34, 1.026), (5289.78, 1.012),
    (5290.23, 1.048), (5290.67, 0.895), (5291.11, 0.997), (5291.56, 0.968), (5292.0, 0.997), (5292.23, 0.99),
    (5292.67, 0.968), (5293.11, 0.953), (5293.56, 1.012), (5294.0, 1.012), (5294.45, 1.012), (5294.89, 0.968),
    (5295.34, 0.953), (5295.78, 1.012), (5296.23, 0.997), (5296.67, 1.026), (5297.11, 0.997), (5297.56, 0.997),
    (5298.0, 0.953), (5298.45, 0.968), (5298.89, 0.821), (5299.34, 0.821), (5299.78, 1.019), (5300.0, 0.96),
]

x_ranges = [(4110, 4180, 10), (4350, 4400, 10), (5200, 5300, 20)]
y_ticks = [0.6, 0.8, 1.0, 1.2]
series_names = ['data', 'best binary model', 'best star + veiling model']
series_colors = ['#000000', '#ff0000', '#00bfbf']
legend_ids = ['legend', 'legend2', 'legend3']

binary_left = ['<i>T</i><sub>eff, 1</sub> = 3800 K', '<i>T</i><sub>eff, 2</sub> = 5800 K',
               'log <i>g</i><sub>1</sub> = 1.3', 'log <i>g</i><sub>2</sub> = 2.9']
binary_right = ['<i>v</i> sin <i>i</i><sub>1</sub> = 15 km s<sup>−1</sup>',
                '<i>v</i> sin <i>i</i><sub>2</sub> = 73 km s<sup>−1</sup>',
                '<i>R</i><sub>2</sub>/<i>R</i><sub>1</sub> = 0.35', '[Fe/H] = −0.5']
veiling_text = ['<i>T</i><sub>eff, 1</sub> = 4300 K', '<i>T</i><sub>eff, veiling</sub> = 6000 K',
                '<i>R</i><sub>veiling</sub>/<i>R</i><sub>1</sub> = 0.32']

SERIF = 'Liberation Serif'
SANS = 'DejaVu Sans'

panels = [
    (p1_data, p1_binary, p1_veiling),
    (p2_data, p2_binary, p2_veiling),
    (p3_data, p3_binary, p3_veiling),
]

fig = make_subplots(rows=3, cols=1, vertical_spacing=0.0614)

for row, spectra in enumerate(panels, start=1):
    for k, spec in enumerate(spectra):
        wl = [p[0] for p in spec]
        fl = [p[1] for p in spec]
        fig.add_trace(go.Scatter(
            x=wl, y=fl, mode='lines', name=series_names[k],
            line=dict(color=series_colors[k], width=1.8, shape='spline', smoothing=0.6),
            showlegend=(row == 1), legend=legend_ids[k], hoverinfo='skip',
        ), row=row, col=1)

    lo, hi, step = x_ranges[row - 1]
    fig.update_xaxes(range=[lo, hi], tick0=lo, dtick=step, row=row, col=1)
    fig.update_yaxes(
        range=[0.5, 1.3], tickvals=y_ticks, ticktext=['%.1f' % v for v in y_ticks],
        title=dict(text='normalized flux', font=dict(family=SERIF, size=20, color='black'), standoff=4),
        row=row, col=1,
    )

axis_style = dict(
    showline=True, linecolor='black', linewidth=1, mirror='ticks',
    ticks='inside', ticklen=5, tickwidth=1, tickcolor='black',
    showgrid=False, zeroline=False,
    tickfont=dict(family=SANS, size=12, color='black'),
)
fig.update_xaxes(**axis_style)
fig.update_yaxes(**axis_style)
fig.update_xaxes(title=dict(text='wavelength [Å]', font=dict(family=SERIF, size=21, color='black'), standoff=8),
                 row=3, col=1)

# parameter labels inside the middle panel
ann = []
line_y = [0.332, 0.258, 0.183, 0.109]
for txt, yy in zip(binary_left, line_y):
    ann.append(dict(text=txt, x=0.109, y=yy, xref='x2 domain', yref='y2 domain',
                    xanchor='left', yanchor='middle', showarrow=False,
                    font=dict(family=SERIF, size=14, color='#ff0000')))
for txt, yy in zip(binary_right, line_y):
    ann.append(dict(text=txt, x=0.24, y=yy, xref='x2 domain', yref='y2 domain',
                    xanchor='left', yanchor='middle', showarrow=False,
                    font=dict(family=SERIF, size=14, color='#ff0000')))
for txt, yy in zip(veiling_text, [0.258, 0.183, 0.10]):
    ann.append(dict(text=txt, x=0.76, y=yy, xref='x2 domain', yref='y2 domain',
                    xanchor='left', yanchor='middle', showarrow=False,
                    font=dict(family=SERIF, size=14, color='#00bfbf')))

leg = dict(orientation='h', yanchor='middle', y=0.753, xanchor='left',
           bgcolor='rgba(0,0,0,0)', borderwidth=0,
           font=dict(family=SERIF, size=18, color='black'))

# the page body adds an 8 px offset, so the margins are shifted to compensate
fig.update_layout(
    width=831, height=688,
    margin=dict(l=50, r=31, t=1, b=68),
    paper_bgcolor='white', plot_bgcolor='white',
    legend=dict(x=0.053, **leg),
    legend2=dict(x=0.193, **leg),
    legend3=dict(x=0.493, **leg),
    annotations=ann,
)

fig.write_html("out.html")
